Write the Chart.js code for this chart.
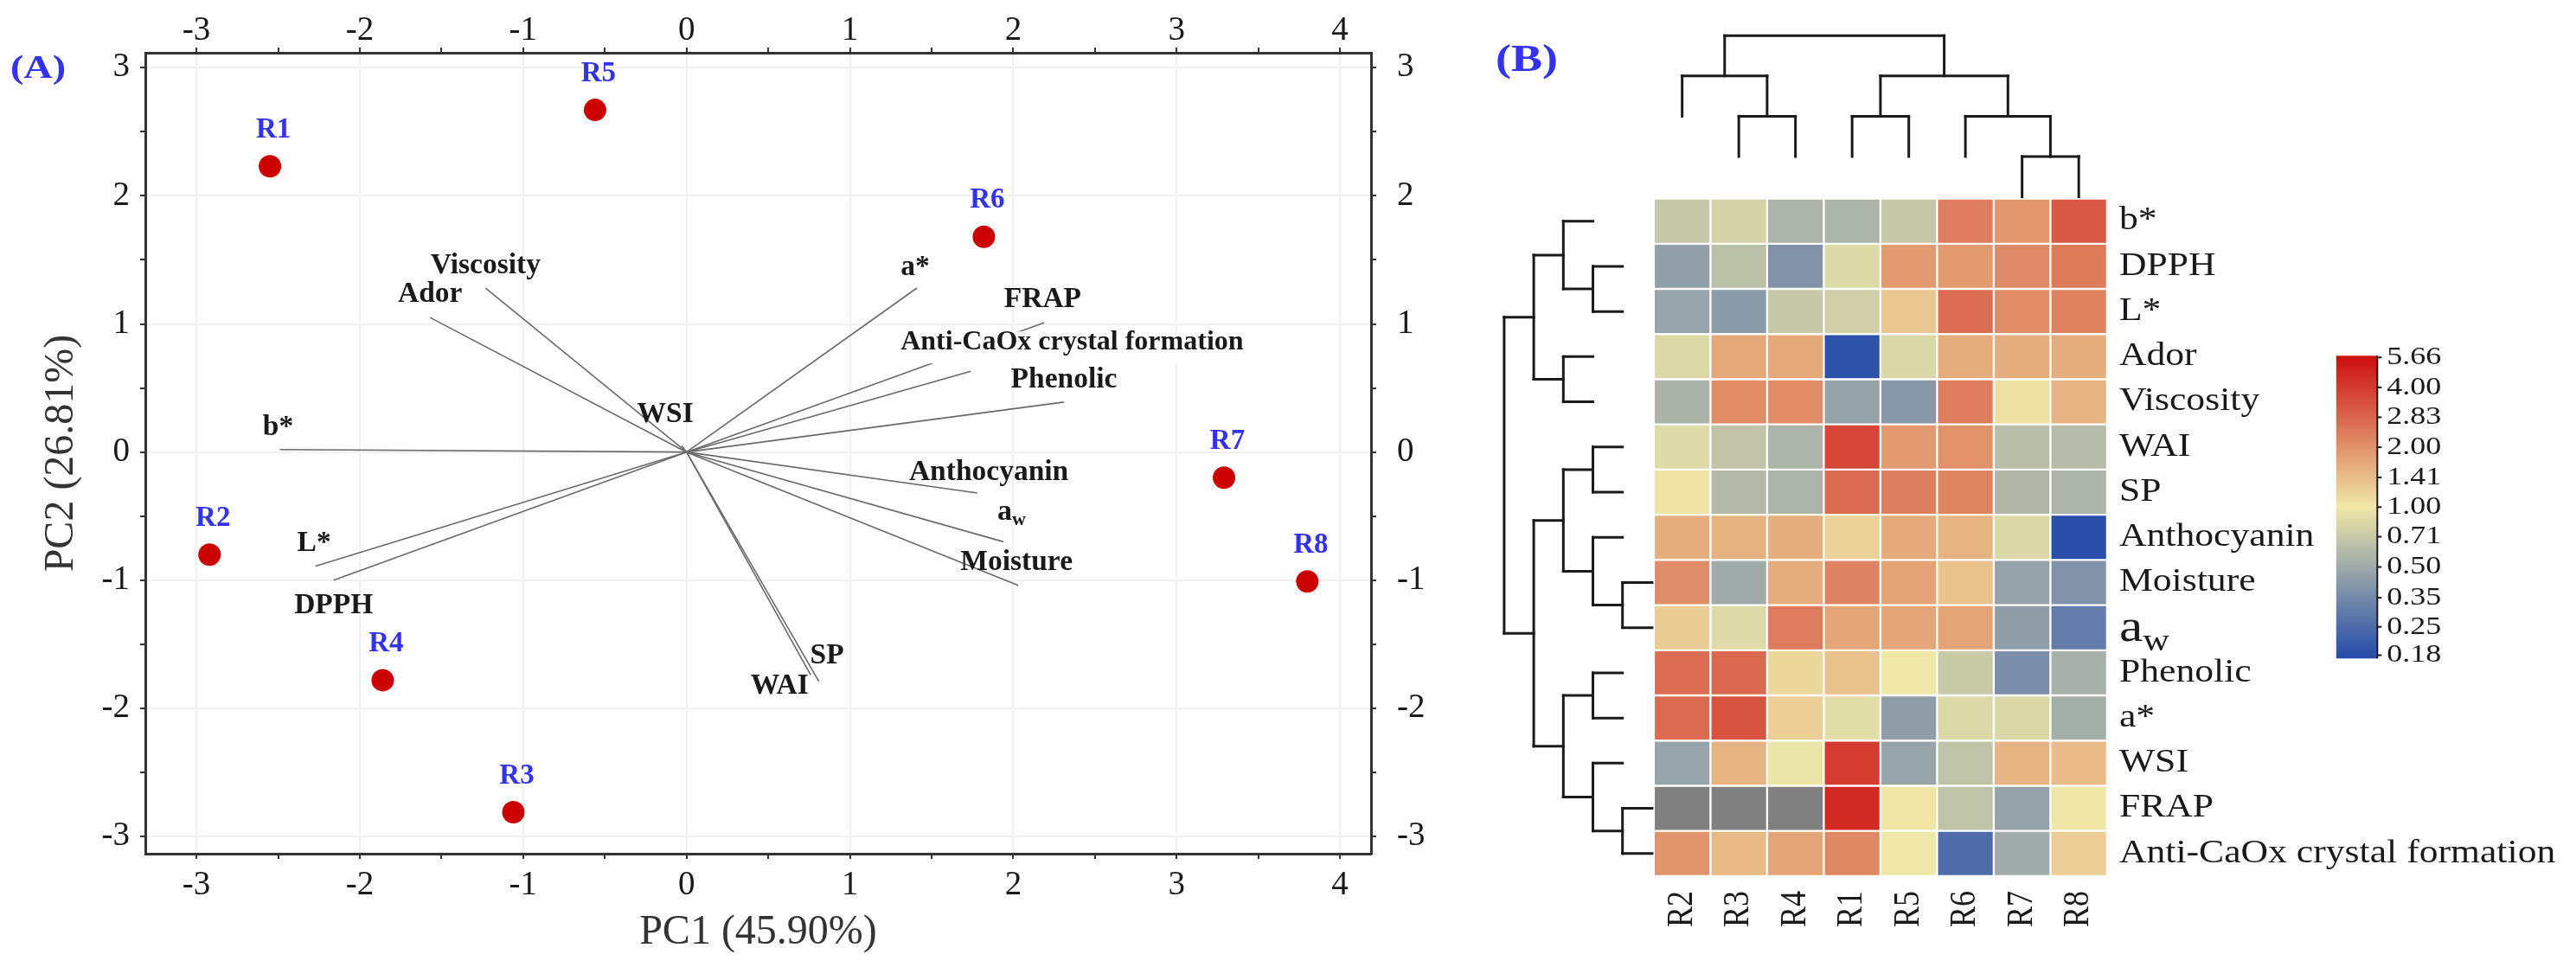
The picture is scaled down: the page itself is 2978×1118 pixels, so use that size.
<!DOCTYPE html>
<html>
<head>
<meta charset="utf-8">
<script src="https://cdn.jsdelivr.net/npm/chart.js@4.4.1/dist/chart.umd.min.js"></script>
<style>
  html, body { margin: 0; padding: 0; background: #fff; }
  #wrap { position: relative; width: 2978px; height: 1118px; }
  #pca { position: absolute; left: 0; top: 0; }
  #heat { position: absolute; left: 1700px; top: 0; }
</style>
</head>
<body>
<div id="wrap">
  <canvas id="pca" width="1700" height="1118"></canvas>
  <canvas id="heat" width="1278" height="1118"></canvas>
</div>
<script>
const SERIF = "'Liberation Serif', 'Times New Roman', serif";
const INK = '#1a1a1a';
const BLUE = '#3333ee';

// ---------- (A) PCA biplot ----------
const samples = ['R1', 'R2', 'R3', 'R4', 'R5', 'R6', 'R7', 'R8'];
const pc1 = [-2.55, -2.92, -1.06, -1.86, -0.56, 1.82, 3.29, 3.80];
const pc2 = [2.23, -0.80, -2.81, -1.78, 2.67, 1.68, -0.20, -1.01];

const variables = ['Viscosity', 'Ador', 'b*', 'WSI', 'a*', 'FRAP', 'Anti-CaOx crystal formation', 'Phenolic',
  'Anthocyanin', 'a_w', 'Moisture', 'SP', 'WAI', 'L*', 'DPPH'];
const loadPC1 = [-1.23, -1.57, -2.49, -0.03, 1.41, 2.19, 1.74, 2.31, 1.78, 1.94, 2.03, 0.81, 0.76, -2.27, -2.16];
const loadPC2 = [1.28, 1.05, 0.02, 0.05, 1.28, 1.01, 0.63, 0.39, -0.32, -0.70, -1.04, -1.79, -1.74, -0.89, -1.00];
// where the repelled variable labels ended up (data units)
const labelPC1 = [-1.23, -1.57, -2.50, -0.13, 1.40, 2.18, 2.36, 2.31, 1.85, 1.99, 2.02, 0.86, 0.57, -2.28, -2.16];
const labelPC2 = [1.45, 1.23, 0.19, 0.29, 1.44, 1.19, 0.86, 0.56, -0.16, -0.47, -0.86, -1.59, -1.83, -0.71, -1.20];

const pc1Ticks = [-3, -2, -1, 0, 1, 2, 3, 4];
const pc2Ticks = [-3, -2, -1, 0, 1, 2, 3];

// ---------- (B) heatmap ----------
const heatCols = ['R2', 'R3', 'R4', 'R1', 'R5', 'R6', 'R7', 'R8'];
const heatRows = ['b*', 'DPPH', 'L*', 'Ador', 'Viscosity', 'WAI', 'SP', 'Anthocyanin', 'Moisture', 'a_w',
  'Phenolic', 'a*', 'WSI', 'FRAP', 'Anti-CaOx crystal formation'];
const heatValues = [
  [0.69, 0.79, 0.56, 0.56, 0.69, 2.36, 1.91, 3.12],
  [0.45, 0.64, 0.39, 0.86, 1.87, 1.87, 2.11, 2.40],
  [0.47, 0.43, 0.70, 0.76, 1.30, 2.66, 2.10, 2.27],
  [0.85, 1.67, 1.67, 0.19, 0.84, 1.62, 1.62, 1.62],
  [0.55, 2.10, 2.08, 0.46, 0.41, 2.35, 1.07, 1.53],
  [0.87, 0.67, 0.56, 3.67, 1.87, 2.00, 0.63, 0.61],
  [1.05, 0.59, 0.56, 2.70, 2.30, 2.21, 0.58, 0.56],
  [1.59, 1.54, 1.59, 1.19, 1.63, 1.51, 0.84, 0.18],
  [2.06, 0.51, 1.60, 2.23, 1.74, 1.36, 0.46, 0.39],
  [1.25, 0.87, 2.35, 1.70, 1.70, 1.72, 0.44, 0.30],
  [2.66, 2.79, 1.14, 1.37, 1.00, 0.72, 0.37, 0.54],
  [2.70, 3.30, 1.22, 0.89, 0.44, 0.85, 0.84, 0.53],
  [0.47, 1.53, 0.97, 3.97, 0.47, 0.66, 1.50, 1.43],
  [null, null, null, 4.60, 1.02, 0.66, 0.46, 0.99],
  [1.98, 1.46, 1.70, 2.16, 1.00, 0.25, 0.51, 1.24]
];
const legendTicks = [5.66, 4.00, 2.83, 2.00, 1.41, 1.00, 0.71, 0.50, 0.35, 0.25, 0.18];

// dendrograms: [left, right, mergeHeight]
const colTree = [['R2', ['R3', 'R4', 2], 3], [['R1', 'R5', 2], ['R6', ['R7', 'R8', 1], 2], 3], 4];
const rowTree = [
  [['b*', ['DPPH', 'L*', 2], 3], ['Ador', 'Viscosity', 3], 4],
  [[['WAI', 'SP', 2], ['Anthocyanin', ['Moisture', 'a_w', 1], 2], 3],
   [['Phenolic', 'a*', 2], ['WSI', ['FRAP', 'Anti-CaOx crystal formation', 1], 2], 3], 4],
  5];

// ---------- helpers ----------
function richText(ctx, text, x, y, o) {
  const [base, sub] = text.split('_');
  const w = o.weight || 'normal';
  const f1 = `${w} ${o.size}px ${SERIF}`;
  const f2 = `${w} ${o.subSize || o.size}px ${SERIF}`;
  ctx.font = f1;
  const w1 = ctx.measureText(base).width;
  let w2 = 0;
  if (sub) { ctx.font = f2; w2 = ctx.measureText(sub).width; }
  const total = w1 + w2;
  ctx.save();
  ctx.translate(x, y);
  ctx.scale(o.sx || 1, 1);
  if (o.rot) ctx.rotate(o.rot);
  ctx.textAlign = 'left';
  ctx.textBaseline = 'middle';
  const start = o.align === 'center' ? -total / 2 : o.align === 'right' ? -total : 0;
  ctx.font = f1;
  ctx.fillText(base, start, 0);
  if (sub) { ctx.font = f2; ctx.fillText(sub, start + w1, o.subDrop || 0); }
  ctx.restore();
  return total;
}

const halfTicks = labels => {
  const t = [];
  labels.forEach((v, i) => {
    t.push({ value: v });
    if (i < labels.length - 1) t.push({ value: (v + labels[i + 1]) / 2 });
  });
  return t;
};

function pcAxis(pos, min, max, labels, size, pad, title) {
  const vertical = pos === 'left' || pos === 'right';
  return {
    type: 'linear', position: pos, min, max,
    afterBuildTicks: a => { a.ticks = halfTicks(labels); },
    afterFit: s => { if (vertical) s.width = size; else s.height = size; },
    ticks: {
      autoSkip: false, maxRotation: 0, padding: pad, color: INK,
      font: { family: SERIF, size: 39, lineHeight: 1 },
      callback: v => Number.isInteger(v) ? String(v) : ''
    },
    grid: {
      drawOnChartArea: pos === 'bottom' || pos === 'left',
      color: c => (c.tick && Number.isInteger(c.tick.value)) ? '#f1f1f1' : 'rgba(0,0,0,0)',
      lineWidth: 2, tickLength: 6, tickColor: '#333', tickWidth: 2
    },
    border: { color: '#333', width: 3 },
    title: title || { display: false }
  };
}

// ---------- (A) chart ----------
const pcaDecor = {
  id: 'pcaDecor',
  afterDatasetsDraw(chart) {
    const { ctx, scales: { x, y } } = chart;
    ctx.save();
    variables.forEach((name, i) => {
      const px = x.getPixelForValue(labelPC1[i]);
      const py = y.getPixelForValue(labelPC2[i]);
      if (name.startsWith('Anti')) {
        // this label sits on a white box that hides part of the FRAP arrow
        ctx.font = `bold 32px ${SERIF}`;
        const w = ctx.measureText(name).width;
        ctx.fillStyle = '#fff';
        ctx.fillRect(px - w / 2 - 3, py - 12, w + 6, 37);
      }
      ctx.fillStyle = INK;
      if (name === 'a_w') {
        richText(ctx, name, px, py, { size: 34, subSize: 22, subDrop: 9, weight: 'bold', align: 'center' });
      } else if (name.startsWith('Anti')) {
        richText(ctx, name, px, py, { size: 32, weight: 'bold', align: 'center' });
      } else {
        richText(ctx, name, px, py, { size: 33.5, weight: 'bold', align: 'center' });
      }
    });
    ctx.fillStyle = BLUE;
    samples.forEach((s, i) => {
      richText(ctx, s, x.getPixelForValue(pc1[i]) + 4, y.getPixelForValue(pc2[i]) - 42,
        { size: 33, weight: 'bold', align: 'center' });
    });
    richText(ctx, '(A)', 44, 80, { size: 37, weight: 'bold', align: 'center', sx: 1.25 });
    ctx.restore();
  }
};

new Chart(document.getElementById('pca'), {
  type: 'scatter',
  data: {
    datasets: [
      {
        data: samples.map((s, i) => ({ x: pc1[i], y: pc2[i] })),
        pointRadius: 13, pointBackgroundColor: '#cc0000', pointBorderWidth: 0, order: 0
      },
      ...variables.map((v, i) => ({
        data: [{ x: 0, y: 0 }, { x: loadPC1[i], y: loadPC2[i] }],
        showLine: true, borderColor: '#6a6a6a', borderWidth: 1.6, pointRadius: 0, order: 1
      }))
    ]
  },
  options: {
    responsive: false, animation: false, devicePixelRatio: 1, events: [],
    layout: { padding: 0 },
    scales: {
      x: pcAxis('bottom', -3.313, 4.19, pc1Ticks, 131, 11, {
        display: true, text: 'PC1 (45.90%)', color: '#333',
        font: { family: SERIF, size: 48, lineHeight: 1.2 }, padding: { top: 0, bottom: 11 }
      }),
      x2: pcAxis('top', -3.313, 4.19, pc1Ticks, 61, 0),
      y: pcAxis('left', -3.134, 3.116, pc2Ticks, 168, 12, {
        display: true, text: 'PC2 (26.81%)', color: '#333',
        font: { family: SERIF, size: 48, lineHeight: 1.2 }, padding: { top: 43, bottom: 0 }
      }),
      y2: pcAxis('right', -3.134, 3.116, pc2Ticks, 115, 24)
    },
    plugins: { legend: { display: false }, tooltip: { enabled: false } }
  },
  plugins: [pcaDecor]
});

// ---------- (B) chart ----------
const LOW = [38, 76, 170], MID = [239, 232, 168], HIGH = [204, 16, 16];
function heatColor(v) {
  if (v === null) return '#808080';
  const t = Math.max(-2.5, Math.min(2.5, Math.log2(v))) / 2.5;
  const end = t < 0 ? LOW : HIGH, f = Math.abs(t);
  const c = MID.map((m, k) => Math.round(m + (end[k] - m) * f));
  return `rgb(${c.join(',')})`;
}

function drawTree(ctx, node, posOf, seg) {
  if (typeof node === 'string') return { p: posOf(node), h: null };
  const [a, b, h] = node;
  const A = drawTree(ctx, a, posOf, seg);
  const B = drawTree(ctx, b, posOf, seg);
  seg(A.p, h, B.p, h);
  seg(A.p, h, A.p, A.h === null ? h - 1 : A.h);
  seg(B.p, h, B.p, B.h === null ? h - 1 : B.h);
  return { p: (A.p + B.p) / 2, h };
}

const heatDecor = {
  id: 'heatDecor',
  afterDraw(chart) {
    const { ctx, chartArea: area, scales: { x, y } } = chart;
    ctx.save();
    ctx.strokeStyle = INK;
    ctx.lineWidth = 3;
    ctx.lineCap = 'square';
    const line = (x1, y1, x2, y2) => { ctx.beginPath(); ctx.moveTo(x1, y1); ctx.lineTo(x2, y2); ctx.stroke(); };

    const colY = h => area.top - 2 - h * 46.6;
    drawTree(ctx, colTree, n => x.getPixelForValue(heatCols.indexOf(n)),
      (p1, h1, p2, h2) => line(p1, colY(h1), p2, colY(h2)));
    const rowX = h => area.left - 2 - h * 34.2;
    drawTree(ctx, rowTree, n => y.getPixelForValue(heatRows.indexOf(n) + 0.5),
      (p1, h1, p2, h2) => line(rowX(h1), p1, rowX(h2), p2));

    ctx.fillStyle = INK;
    heatRows.forEach((name, r) => {
      const py = y.getPixelForValue(r + 0.5);
      if (name === 'a_w') {
        richText(ctx, name, area.right + 14, py + 2, { size: 52, subSize: 36, subDrop: 15, align: 'left', sx: 1.18 });
      } else {
        richText(ctx, name, area.right + 14, py, { size: 37, align: 'left', sx: 1.18 });
      }
    });
    heatCols.forEach((name, c) => {
      richText(ctx, name, x.getPixelForValue(c), area.bottom + 17,
        { size: 36, align: 'right', sx: 1.2, rot: -Math.PI / 2 });
    });

    // colour key (log2 scale)
    const kx0 = 1000.8, kx1 = 1048.3;
    const ky = t => 586.3 - t * 69.2;
    const grad = ctx.createLinearGradient(0, ky(2.5), 0, ky(-2.5));
    for (let k = 0; k <= 20; k++) {
      const t = 2.5 - k * 0.25;
      grad.addColorStop(k / 20, heatColor(Math.pow(2, t)));
    }
    ctx.fillStyle = grad;
    ctx.fillRect(kx0, ky(2.5) - 2, kx1 - kx0, ky(-2.5) - ky(2.5) + 4);
    ctx.lineWidth = 2;
    ctx.lineCap = 'butt';
    line(kx1, ky(2.5) - 2, kx1, ky(-2.5) + 2);
    ctx.fillStyle = INK;
    legendTicks.forEach(v => {
      const ty = ky(Math.log2(v));
      line(kx1, ty, kx1 + 5, ty);
      richText(ctx, v.toFixed(2), kx1 + 11, ty, { size: 30, align: 'left', sx: 1.2 });
    });

    ctx.fillStyle = BLUE;
    richText(ctx, '(B)', 65, 70, { size: 45, weight: 'bold', align: 'center', sx: 1.2 });
    ctx.restore();
  }
};

new Chart(document.getElementById('heat'), {
  type: 'bar',
  data: {
    labels: heatCols,
    datasets: heatRows.map((name, r) => ({
      label: name,
      data: heatCols.map(() => [r, r + 1]),
      backgroundColor: heatValues[r].map(heatColor),
      borderColor: '#ffffff', borderWidth: 1.5, borderSkipped: false,
      grouped: false, barPercentage: 1, categoryPercentage: 1
    }))
  },
  options: {
    responsive: false, animation: false, devicePixelRatio: 1, events: [],
    layout: { padding: { left: 211.9, right: 542.1, top: 229.6, bottom: 105.1 } },
    scales: {
      x: { display: false },
      y: { display: false, min: 0, max: 15, reverse: true }
    },
    plugins: { legend: { display: false }, tooltip: { enabled: false } }
  },
  plugins: [heatDecor]
});
</script>
</body>
</html>
